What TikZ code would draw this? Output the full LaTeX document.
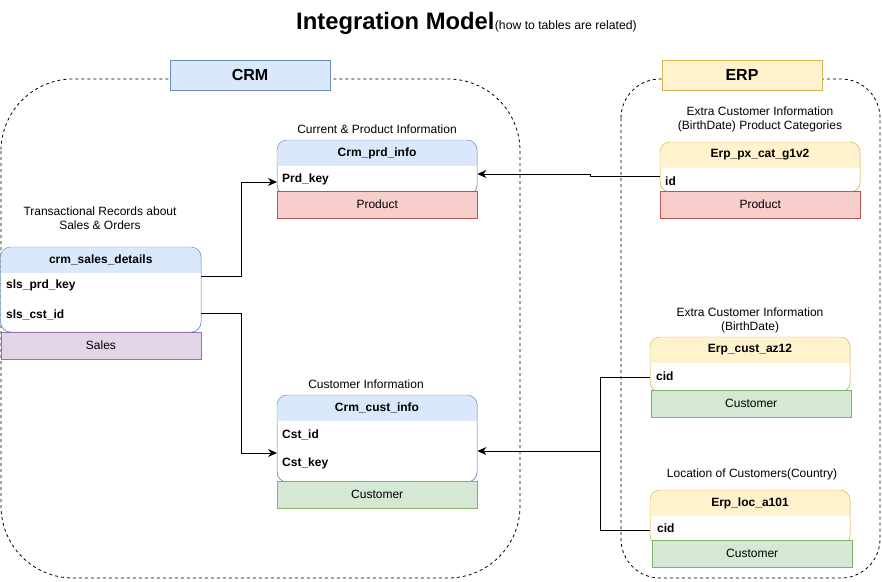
\documentclass[tikz,border=0pt]{standalone}
\usepackage{fontspec}
\setmainfont{Liberation Sans}
\usetikzlibrary{arrows.meta,calc}
\definecolor{bluef}{HTML}{DAE8FC}\definecolor{blued}{HTML}{6C8EBF}
\definecolor{yelf}{HTML}{FFF2CC}\definecolor{yeld}{HTML}{D6B656}
\definecolor{redf}{HTML}{F8CECC}\definecolor{redd}{HTML}{B85450}
\definecolor{grnf}{HTML}{D5E8D4}\definecolor{grnd}{HTML}{82B366}
\definecolor{purf}{HTML}{E1D5E7}\definecolor{purd}{HTML}{9673A6}
\newcommand{\fs}[1]{\fontsize{#1}{#1}\selectfont}
% #1 name, #2 x, #3 y, #4 width, #5 body height, #6 header fill, #7 border, #8 title
\newcommand{\erdtbl}[8]{%
  \node[draw=#7,fill=white,rounded corners=10pt,minimum width=#4pt,minimum height=#5pt,anchor=north west,inner sep=0pt] (#1) at (#2,#3) {};
  \begin{scope}
    \clip[rounded corners=10pt] (#2,#3) rectangle ++(#4,#5);
    \fill[#6] (#2,#3) rectangle ++(#4,26);
  \end{scope}
  \draw[#7,rounded corners=10pt] (#2,#3) rectangle ++(#4,#5);
  \node[hdr] (#1-h) at (#2+#4/2,#3+13) {#8};
}
\tikzset{
  hdr/.style={font=\fs{12}\bfseries,inner sep=0pt},
  row/.style={font=\fs{12}\bfseries,anchor=west,inner sep=0pt},
  lbl/.style={font=\fs{12},align=center,inner sep=0pt},
  foot/.style={draw=#1,anchor=north west,minimum height=27pt,inner sep=0pt,font=\fs{12}},
  container/.style={draw,dashed,dash pattern=on 3pt off 3pt,line width=0.8pt},
  grp/.style={draw=#1,minimum width=160pt,minimum height=30pt,font=\fs{16}\bfseries,inner sep=0pt},
  arr/.style={-{Stealth[length=9pt,width=8pt]},line width=0.9pt},
  ln/.style={line width=0.9pt}
}
\begin{document}
\begin{tikzpicture}[x=1pt,y=-1pt]
\useasboundingbox (0,0) rectangle (882,581);
% title
\node[anchor=base west,inner sep=0pt,font=\fs{23.8}\bfseries] (title) at (296,29) {Integration Model};
\node[anchor=base west,inner sep=0pt,font=\fs{12.2}] (subt) at (title.base east) {(how to tables are related)};
% containers
\draw[container,rounded corners=72pt] (1,79) rectangle (520,578);
\draw[container,rounded corners=39pt] (621,79) rectangle (880,578);
\node[grp=blued,fill=bluef] (crm) at (250,75) {CRM};
\node[grp=yeld,fill=yelf] (erp) at (742,75) {ERP};

% Crm_prd_info
\node[lbl] (prdL) at (377,129) {Current \& Product Information};
\erdtbl{prd}{277}{140}{200}{55}{bluef}{blued}{Crm\_prd\_info}
\node[row] (prdk) at (282,179) {Prd\_key};
\node[foot=redd,fill=redf,minimum width=200pt] (prdF) at (277,191) {Product};

% crm_sales_details
\node[lbl] (salL) at (100,218) {Transactional Records about\\[2pt]Sales \& Orders};
\erdtbl{sal}{0.5}{247}{200.5}{85}{bluef}{blued}{crm\_sales\_details}
\node[row] (sprd) at (6,285) {sls\_prd\_key};
\node[row] (scst) at (6,315) {sls\_cst\_id};
\node[foot=purd,fill=purf,minimum width=200.5pt] (salF) at (0.5,332) {Sales};

% Crm_cust_info
\node[lbl] (custL) at (366,384) {Customer Information};
\erdtbl{cust}{277}{395}{200}{87}{bluef}{blued}{Crm\_cust\_info}
\node[row] (cid) at (282,435) {Cst\_id};
\node[row] (ckey) at (282,463) {Cst\_key};
\node[foot=grnd,fill=grnf,minimum width=200pt] (custF) at (277,481) {Customer};

% Erp_px_cat_g1v2
\node[lbl] (pxL) at (760,119) {Extra Customer Information\\[2pt](BirthDate) Product Categories};
\erdtbl{px}{660}{142}{200}{50}{yelf}{yeld}{Erp\_px\_cat\_g1v2}
\node[row] (pxid) at (665,181) {id};
\node[foot=redd,fill=redf,minimum width=200pt] (pxF) at (660,191) {Product};

% Erp_cust_az12
\node[lbl] (azL) at (750,320) {Extra Customer Information\\[2pt](BirthDate)};
\erdtbl{az}{650}{337}{200}{55}{yelf}{yeld}{Erp\_cust\_az12}
\node[row] (azid) at (656,376) {cid};
\node[foot=grnd,fill=grnf,minimum width=200pt] (azF) at (651,390) {Customer};

% Erp_loc_a101
\node[lbl] (locL) at (752,474) {Location of Customers(Country)};
\erdtbl{loc}{650}{490}{200}{55}{yelf}{yeld}{Erp\_loc\_a101}
\node[row] (locid) at (657,528) {cid};
\node[foot=grnd,fill=grnf,minimum width=200pt] (locF) at (652,540) {Customer};

% ports
\coordinate (sP1) at (sal.east |- 0,276);
\coordinate (sP2) at (sal.east |- 0,313);
\coordinate (prdIn) at (prd.west |- 0,182);
\coordinate (prdInR) at (prd.east |- 0,174);
\coordinate (custIn) at (cust.west |- 0,453);
\coordinate (custInR) at (cust.east |- 0,451);
\coordinate (pxP) at (px.west |- 0,176);
\coordinate (azP) at (az.west |- 0,377);
\coordinate (locP) at (loc.west |- 0,530);

% connectors
\draw[arr] (sP1) -- ++(40,0) |- (prdIn);
\draw[arr] (sP2) -- ++(40,0) |- (custIn);
\draw[arr] (pxP) -- ++(-70,0) -- ++(0,-2) -- (prdInR);
\draw[ln] (azP) -| ($(custInR)+(123,0)$);
\draw[ln] (locP) -| ($(custInR)+(123,0)$);
\draw[arr] ($(custInR)+(123,0)$) -- (custInR);
\end{tikzpicture}
\end{document}
